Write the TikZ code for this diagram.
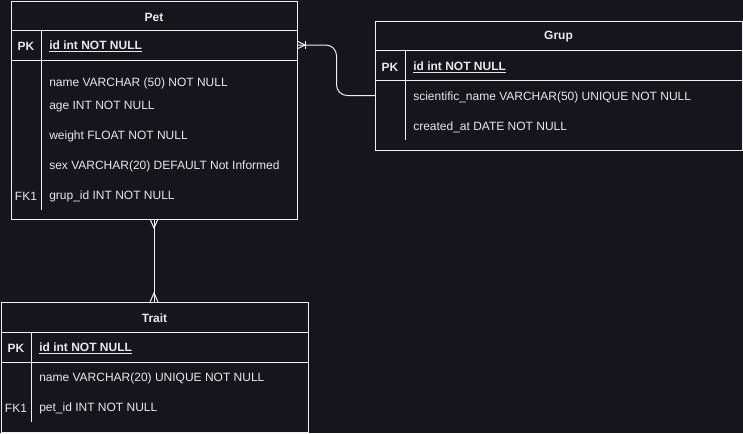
\documentclass[tikz,border=0pt]{standalone}
\usepackage{fontspec}
\setmainfont{Liberation Sans}
\definecolor{bgc}{HTML}{18141D}
\definecolor{linec}{HTML}{F0F0F0}
\definecolor{txtc}{HTML}{E8E8E8}
\begin{document}
\begin{tikzpicture}[x=0.75pt,y=-0.75pt,
  tbl/.style={draw=linec,line width=0.75pt},
  sep/.style={draw=linec,line width=0.75pt},
  conn/.style={draw=linec,line width=0.75pt},
  fld/.style={anchor=west,inner sep=0pt,yshift=-1.1pt,text=txtc,font=\fontsize{9}{11}\selectfont},
  keyl/.style={inner sep=0pt,yshift=-1.1pt,text=txtc,font=\fontsize{9}{11}\selectfont\bfseries},
  ttl/.style={inner sep=0pt,yshift=-1.1pt,text=txtc,font=\fontsize{9}{11}\selectfont\bfseries}]
\fill[bgc] (0,0) rectangle (743,433);
\useasboundingbox (0,0) rectangle (743,433);
% ---------- Pet
\draw[tbl] (11,1) rectangle (297,219);
\draw[sep] (11,30) -- (297,30);
\draw[sep] (11,60) -- (297,60);
\draw[sep] (41,30) -- (41,210);
\node[ttl] (petT) at (154,16) {Pet};
\node[keyl] (petPK) at (26,45) {PK};
\node[fld,font=\fontsize{9}{11}\selectfont\bfseries] (petid) at (49,45) {\underline{id int NOT NULL}};
\node[fld] (petn) at (49,82) {name VARCHAR (50) NOT NULL};
\node[fld] (peta) at (49,105) {age INT NOT NULL};
\node[fld] (petw) at (49,135) {weight FLOAT NOT NULL};
\node[fld] (pets) at (49,165) {sex VARCHAR(20) DEFAULT Not Informed};
\node[keyl,font=\fontsize{9}{11}\selectfont] (petFK) at (26,195) {FK1};
\node[fld] (petg) at (49,195) {grup\_id INT NOT NULL};
% ---------- Grup
\draw[tbl] (375,21) rectangle (742,150);
\draw[sep] (375,50) -- (742,50);
\draw[sep] (375,80) -- (742,80);
\draw[sep] (405,50) -- (405,140);
\node[ttl] (grupT) at (558.5,35) {Grup};
\node[keyl] (grupPK) at (390,66) {PK};
\node[fld,font=\fontsize{9}{11}\selectfont\bfseries] (grupid) at (413,66) {\underline{id int NOT NULL}};
\node[fld] (grups) at (413,96) {scientific\_name VARCHAR(50) UNIQUE NOT NULL};
\node[fld] (grupc) at (413,126) {created\_at DATE NOT NULL};
% ---------- Trait
\draw[tbl] (1,302) rectangle (308,432);
\draw[sep] (1,332) -- (308,332);
\draw[sep] (1,362) -- (308,362);
\draw[sep] (31,332) -- (31,422);
\node[ttl] (traitT) at (154.5,317) {Trait};
\node[keyl] (traitPK) at (16,347) {PK};
\node[fld,font=\fontsize{9}{11}\selectfont\bfseries] (traitid) at (39,347) {\underline{id int NOT NULL}};
\node[fld] (traitn) at (39,377) {name VARCHAR(20) UNIQUE NOT NULL};
\node[keyl,font=\fontsize{9}{11}\selectfont] (traitFK) at (16,407) {FK1};
\node[fld] (traitp) at (39,407) {pet\_id INT NOT NULL};
% ---------- connector points
\coordinate (petR) at (297,45);
\coordinate (grupL) at (375,95.5);
\coordinate (petB) at (154,219);
\coordinate (traitTop) at (154,302);
% Pet -- Grup
\draw[conn,rounded corners=8pt] (petR) -- (336.5,45) -- (336.5,95.5) -- (grupL);
\draw[conn] (petR) ++(0,-4) -- ++(8,4) -- ++(-8,4);
\draw[conn] (petR) ++(8,-4) -- ++(0,8);
% Pet -- Trait
\draw[conn] (petB) -- (traitTop);
\draw[conn] (petB) ++(-4,0) -- ++(4,9) -- ++(4,-9);
\draw[conn] (traitTop) ++(-4,0) -- ++(4,-9) -- ++(4,9);
\end{tikzpicture}
\end{document}
